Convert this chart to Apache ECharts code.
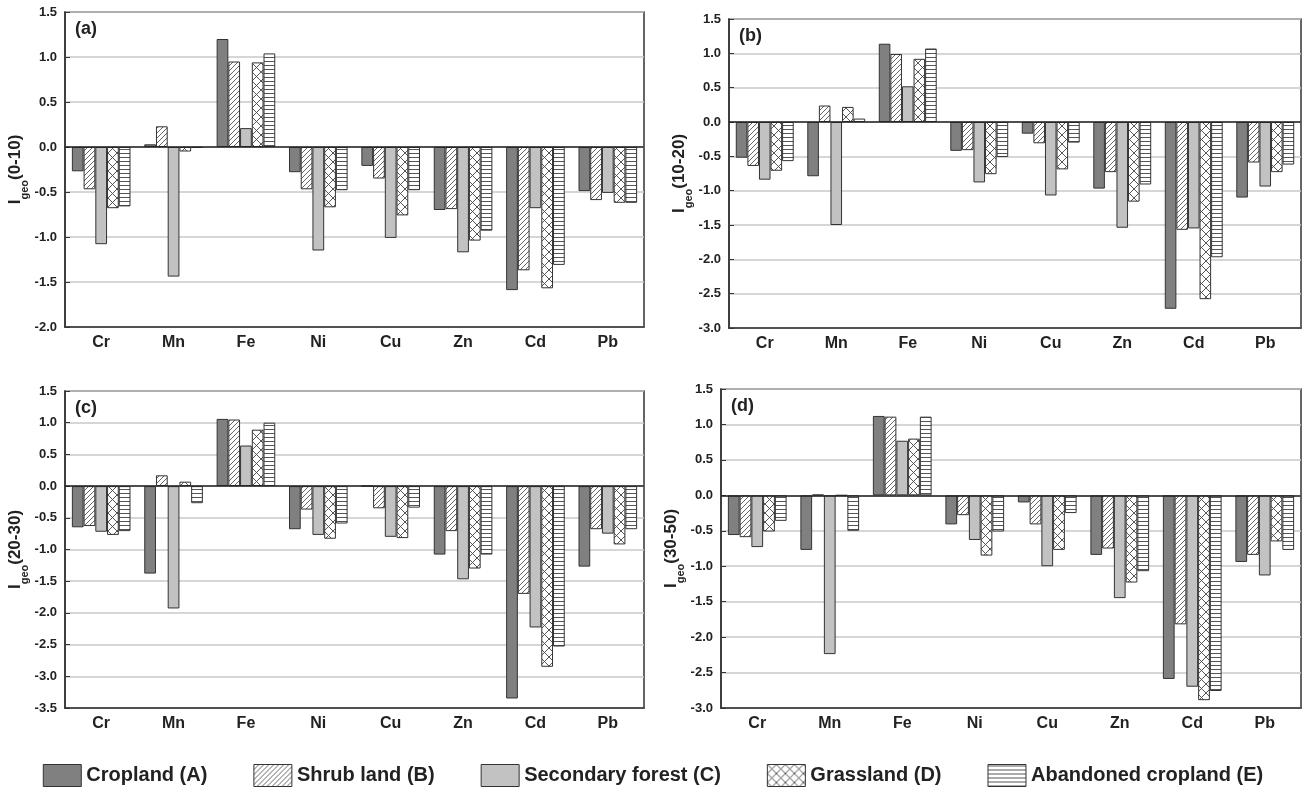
<!DOCTYPE html>
<html>
<head>
<meta charset="utf-8">
<script src="https://cdn.jsdelivr.net/npm/echarts@6/dist/echarts.min.js"></script>
<style>
html,body{margin:0;padding:0;background:#fff;}
#chart{width:1306px;height:789px;}
</style>
</head>
<body>
<div id="chart"></div>
<script>
// ---- data ----
const elements = ['Cr','Mn','Fe','Ni','Cu','Zn','Cd','Pb'];
const seriesNames = ['Cropland (A)','Shrub land (B)','Secondary forest (C)','Grassland (D)','Abandoned cropland (E)'];
const panelLabels = ['(a)','(b)','(c)','(d)'];
const depthLabels = ['(0-10)','(10-20)','(20-30)','(30-50)'];
const yMins = [-2.0,-3.0,-3.5,-3.0];
const yMaxs = [1.5,1.5,1.5,1.5];

// panel (a) 0-10 cm
const a_A = [-0.27, 0.03, 1.20, -0.28, -0.21, -0.70, -1.59, -0.49];
const a_B = [-0.47, 0.23, 0.95, -0.47, -0.35, -0.69, -1.37, -0.59];
const a_C = [-1.08, -1.44, 0.21, -1.15, -1.01, -1.17, -0.68, -0.51];
const a_D = [-0.68, -0.05, 0.94, -0.67, -0.76, -1.04, -1.57, -0.62];
const a_E = [-0.66, -0.01, 1.04, -0.48, -0.48, -0.93, -1.31, -0.62];
// panel (b) 10-20 cm
const b_A = [-0.52, -0.79, 1.14, -0.42, -0.17, -0.97, -2.72, -1.10];
const b_B = [-0.64, 0.24, 0.99, -0.41, -0.31, -0.73, -1.57, -0.59];
const b_C = [-0.84, -1.50, 0.52, -0.88, -1.07, -1.54, -1.55, -0.94];
const b_D = [-0.71, 0.22, 0.92, -0.76, -0.69, -1.16, -2.58, -0.73];
const b_E = [-0.57, 0.05, 1.07, -0.51, -0.30, -0.91, -1.97, -0.62];
// panel (c) 20-30 cm
const c_A = [-0.65, -1.38, 1.06, -0.68, 0, -1.08, -3.35, -1.27];
const c_B = [-0.63, 0.17, 1.05, -0.37, -0.35, -0.71, -1.70, -0.68];
const c_C = [-0.72, -1.93, 0.64, -0.77, -0.80, -1.47, -2.23, -0.75];
const c_D = [-0.77, 0.07, 0.89, -0.83, -0.82, -1.30, -2.85, -0.92];
const c_E = [-0.71, -0.27, 1.00, -0.59, -0.34, -1.08, -2.53, -0.68];
// panel (d) 30-50 cm
const d_A = [-0.56, -0.77, 1.12, -0.41, -0.10, -0.84, -2.59, -0.94];
const d_B = [-0.59, 0.01, 1.11, -0.28, -0.41, -0.75, -1.82, -0.84];
const d_C = [-0.73, -2.24, 0.77, -0.63, -1.00, -1.45, -2.70, -1.13];
const d_D = [-0.51, 0, 0.80, -0.85, -0.77, -1.23, -2.89, -0.65];
const d_E = [-0.36, -0.50, 1.11, -0.51, -0.25, -1.07, -2.76, -0.77];

const panels = [
  [a_A,a_B,a_C,a_D,a_E],
  [b_A,b_B,b_C,b_D,b_E],
  [c_A,c_B,c_C,c_D,c_E],
  [d_A,d_B,d_C,d_D,d_E]
];

// ---- patterns ----
function pat(type){
  const c = document.createElement('canvas');
  const ctx = c.getContext('2d');
  if(type==='diag'){
    c.width=5;c.height=5;
    ctx.fillStyle='#fff';ctx.fillRect(0,0,5,5);
    ctx.strokeStyle='#555';ctx.lineWidth=0.9;
    ctx.beginPath();
    ctx.moveTo(-1,6);ctx.lineTo(6,-1);
    ctx.moveTo(-1,1);ctx.lineTo(1,-1);
    ctx.moveTo(4,6);ctx.lineTo(6,4);
    ctx.stroke();
  } else if(type==='cross'){
    c.width=9;c.height=9;
    ctx.fillStyle='#fff';ctx.fillRect(0,0,9,9);
    ctx.strokeStyle='#444';ctx.lineWidth=0.9;
    ctx.beginPath();
    ctx.moveTo(0,0);ctx.lineTo(9,9);
    ctx.moveTo(0,9);ctx.lineTo(9,0);
    ctx.stroke();
  } else if(type==='horiz'){
    c.width=4;c.height=4;
    ctx.fillStyle='#fff';ctx.fillRect(0,0,4,4);
    ctx.strokeStyle='#555';ctx.lineWidth=1;
    ctx.beginPath();
    ctx.moveTo(0,1.5);ctx.lineTo(4,1.5);
    ctx.stroke();
  }
  return {image:c, repeat:'repeat'};
}
const fills = ['#808080', pat('diag'), '#c2c2c2', pat('cross'), pat('horiz')];

// ---- layout ----
const grids = [
  {left:65, top:12, width:579, height:315},
  {left:729, top:19, width:572, height:309},
  {left:65, top:391, width:579, height:317},
  {left:721, top:389, width:580, height:319}
];

const FONT = '"Liberation Sans", Arial, sans-serif';

const option = {
  backgroundColor:'#fff',
  animation:false,
  textStyle:{fontFamily:FONT},
  title: panelLabels.map((t,i)=>({
    text:t, left:grids[i].left+5, top:grids[i].top+3,
    textStyle:{fontSize:18,fontWeight:'bold',color:'#222',fontFamily:FONT}
  })),
  legend:{
    data:seriesNames,
    icon:'rect',
    left:'center', top:759,
    itemWidth:38, itemHeight:22, itemGap:46,
    textStyle:{fontSize:20,fontWeight:'bold',color:'#222',fontFamily:FONT},
    itemStyle:{borderColor:'#333',borderWidth:1}
  },
  grid: grids.map(g=>Object.assign({show:true,borderColor:'#333',borderWidth:1.5,backgroundColor:'transparent'},g)),
  xAxis: grids.map((g,i)=>({
    type:'category', gridIndex:i, data:elements,
    axisLine:{onZero:false,lineStyle:{color:'#333',width:1.5}},
    axisTick:{show:false},
    axisLabel:{fontSize:16,fontWeight:'bold',color:'#222',margin:8,fontFamily:FONT}
  })),
  yAxis: grids.map((g,i)=>({
    type:'value', gridIndex:i, min:yMins[i], max:yMaxs[i], interval:0.5,
    name:'{a|I}{b|geo}{a|'+depthLabels[i]+'}',
    nameLocation:'middle', nameRotate:90, nameGap:36,
    nameTextStyle:{rich:{
      a:{fontSize:17,fontWeight:'bold',color:'#222',fontFamily:FONT,lineHeight:22},
      b:{fontSize:11,fontWeight:'bold',color:'#222',fontFamily:FONT,verticalAlign:'bottom',padding:[0,0,-4,0],lineHeight:22}
    }},
    axisLine:{show:true,lineStyle:{color:'#333',width:1.5}},
    axisTick:{show:true,inside:true,length:5,lineStyle:{color:'#333'}},
    axisLabel:{fontSize:13,fontWeight:'bold',color:'#222',formatter:v=>v.toFixed(1),fontFamily:FONT},
    splitLine:{show:true,lineStyle:{color:'#c8c8c8',width:1.5}}
  })),
  series: []
};

panels.forEach((vals,pi)=>{
  vals.forEach((arr,si)=>{
    const s = {
      name:seriesNames[si], type:'bar',
      xAxisIndex:pi, yAxisIndex:pi,
      data:arr,
      barGap:'0%', barCategoryGap:'19%',
      itemStyle:{color:fills[si], borderColor:'#333', borderWidth:1},
      emphasis:{disabled:true}
    };
    if(si===0){
      s.markLine = {
        silent:true, symbol:'none', animation:false,
        label:{show:false},
        lineStyle:{color:'#222',width:1.5,type:'solid'},
        data:[{yAxis:0}]
      };
    }
    option.series.push(s);
  });
});

const chart = echarts.init(document.getElementById('chart'),null,{renderer:'canvas'});
chart.setOption(option);
</script>
</body>
</html>
